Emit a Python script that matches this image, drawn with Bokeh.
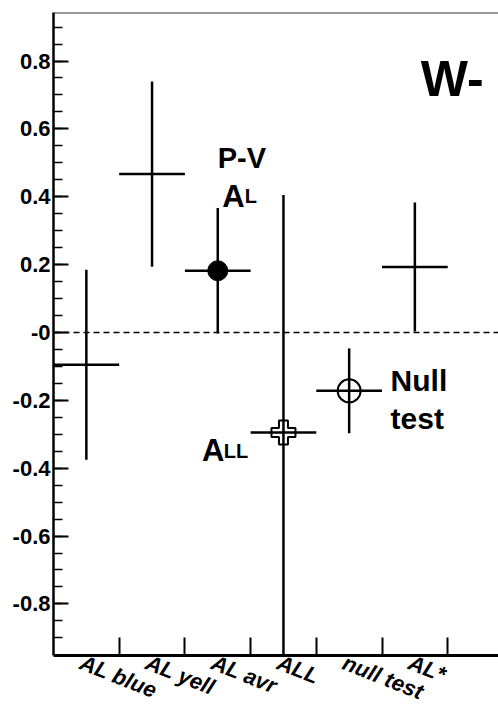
from bokeh.plotting import figure
from bokeh.models import Range1d, FixedTicker, Span, Label
from bokeh.embed import file_html
from bokeh.resources import INLINE

# Single-spin asymmetries for W- (one bin per measurement)
categories = ["AL blue", "AL yell", "AL avr", "ALL", "null test", "AL*"]
asym = [-0.095, 0.467, 0.182, -0.295, -0.172, 0.193]
asym_err = [0.28, 0.273, 0.185, 0.70, 0.125, 0.19]

y_ticks = [-0.8, -0.6, -0.4, -0.2, 0.0, 0.2, 0.4, 0.6, 0.8]
y_tick_labels = ["-0.8", "-0.6", "-0.4", "-0.2", "-0", "0.2", "0.4", "0.6", "0.8"]
y_minor = [round(-0.9 + 0.05 * k, 2) for k in range(37)]

n = len(categories)
centers = [i + 0.5 for i in range(n)]
edges = [i + 1.0 for i in range(n)]
label_pos = [c - 0.08 for c in centers]
lo = [v - e for v, e in zip(asym, asym_err)]
hi = [v + e for v, e in zip(asym, asym_err)]
left = [c - 0.5 for c in centers]
right = [c + 0.5 for c in centers]

FONT = "Liberation Sans"

p = figure(frame_width=445, frame_height=643,
           x_range=Range1d(0, 6.773), y_range=Range1d(-0.952, 0.943),
           output_backend="svg", toolbar_location=None,
           min_border_left=53, min_border_top=12,
           min_border_right=0, min_border_bottom=51)
p.outline_line_color = None
p.xgrid.visible = False
p.ygrid.visible = False
p.background_fill_color = "white"
p.border_fill_color = "white"

# y axis: ticks drawn inward
ya = p.yaxis[0]
ya.ticker = FixedTicker(ticks=y_ticks, minor_ticks=y_minor)
ya.major_label_overrides = {t: s for t, s in zip(y_ticks, y_tick_labels)}
ya.major_tick_in = 15
ya.major_tick_out = 0
ya.minor_tick_in = 9
ya.minor_tick_out = 0
ya.major_tick_line_width = 2
ya.minor_tick_line_width = 1.5
ya.axis_line_width = 2.5
ya.major_label_standoff = 3
ya.major_label_text_font = FONT
ya.major_label_text_font_style = "bold"
ya.major_label_text_font_size = "22px"
ya.major_label_text_color = "black"

# x axis: labels near bin centres, tick marks at bin edges
xa = p.xaxis[0]
xa.ticker = FixedTicker(ticks=label_pos, minor_ticks=edges)
xa.major_label_overrides = {c: s for c, s in zip(label_pos, categories)}
xa.major_tick_line_color = None
xa.major_tick_in = 0
xa.major_tick_out = 0
xa.minor_tick_in = 18
xa.minor_tick_out = 0
xa.minor_tick_line_width = 2
xa.axis_line_width = 3
xa.major_label_standoff = 6
xa.major_label_orientation = -0.38
xa.major_label_text_font = FONT
xa.major_label_text_font_style = "bold italic"
xa.major_label_text_font_size = "22px"
xa.major_label_text_color = "black"

# frame top and zero line
p.add_layout(Span(location=0.943, dimension="width", line_color="#333333", line_width=2))
p.add_layout(Span(location=0.0, dimension="width", line_color="black",
                  line_width=1.5, line_dash="6 4"))

# error bars
p.segment(x0=centers, y0=lo, x1=centers, y1=hi, line_color="black", line_width=2.5)
p.segment(x0=left, y0=asym, x1=right, y1=asym, line_color="black", line_width=2.5)

# markers
p.scatter(x=[centers[2]], y=[asym[2]], marker="circle", size=20,
          fill_color="black", line_color="black")
p.scatter(x=[centers[3]], y=[asym[3]], marker="plus", size=24,
          fill_alpha=0, line_color="black", line_width=2)
p.scatter(x=[centers[4]], y=[asym[4]], marker="circle", size=23,
          fill_alpha=0, line_color="black", line_width=2)

def lab(x, y, text, size):
    p.add_layout(Label(x=x, y=y, text=text, text_font=FONT, text_font_style="bold",
                       text_font_size=size, text_color="black",
                       text_align="left", text_baseline="alphabetic"))

lab(5.59, 0.748, "W-", "50px")
lab(2.50, 0.513, "P-V", "29px")
lab(2.57, 0.401, "A", "31px")
lab(2.91, 0.401, "L", "20px")
lab(2.26, -0.348, "A", "31px")
lab(2.59, -0.348, "LL", "20px")
lab(5.13, -0.141, "Null", "30px")
lab(5.13, -0.253, "test", "30px")

open("out.html", "w").write(file_html(p, INLINE))
